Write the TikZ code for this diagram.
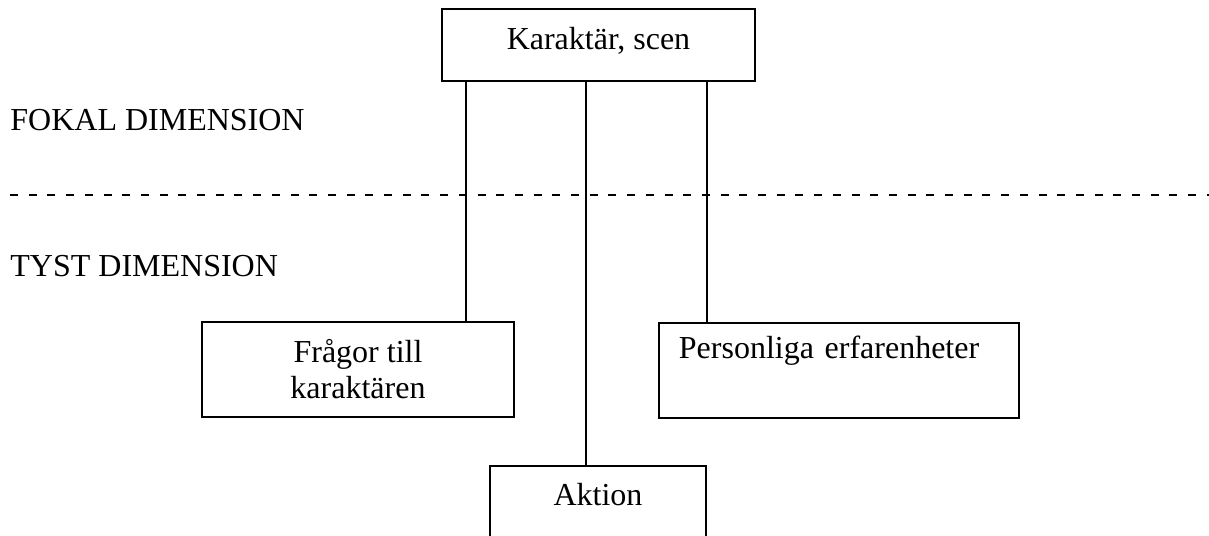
\documentclass[tikz,border=0pt]{standalone}
\usepackage{fontspec}
\setmainfont{Liberation Serif}
\usepackage{tikz}
\tikzset{box/.style={draw,line width=0.9pt,inner sep=0pt,font=\fontsize{16}{18}\selectfont},
            dimtext/.style={inner sep=0pt,font=\fontsize{16}{18}\selectfont},
            link/.style={line width=0.9pt},
            divider/.style={line width=0.9pt,dash pattern=on 4pt off 5.35pt},
            }

\begin{document}
\begin{tikzpicture}[x=0.5pt,y=-0.5pt]
	\useasboundingbox (0,0) rectangle (1209,535);
	\clip (0,0) rectangle (1209,535);
	\node[box,minimum width=156.5pt,minimum height=36pt,text height=10pt,text depth=5pt] (kar) at (598.5,45) {Karaktär, scen};
	\node[box,minimum width=156pt,minimum height=47.5pt,align=center] (fragor) at (358,369.5) {Frågor till\\karaktären};
	\node[box,anchor=north west,text width=160pt,align=left,inner xsep=10pt,inner ysep=8pt,text height=10pt,text depth=21.5pt] (person) at (658,322) {Personliga erfarenheter};
	\node[box,anchor=north,minimum width=108pt,inner ysep=10pt,text height=10pt,text depth=40pt] (aktion) at (598,465) {Aktion};
	
	\node[dimtext,anchor=base west] (fokal) at (10,130) {FOKAL DIMENSION};
	\node[dimtext,anchor=base west] (tyst) at (10,276) {TYST DIMENSION};
	\coordinate (D1) at (10,195);
	\coordinate (D2) at (1209,195);
	\draw[divider] (D1) -- (D2);
	
	\coordinate (K1) at ([xshift=12.5pt]kar.south west);
	\coordinate (K2) at ([xshift=-6.25pt]kar.south);
	\coordinate (K3) at ([xshift=-24.5pt]kar.south east);
	\draw[link] (K1) -- (K1 |- fragor.north);
	\draw[link] (K2) -- (K2 |- aktion.north);
	\draw[link] (K3) -- (K3 |- person.north);
\end{tikzpicture}
\end{document}
